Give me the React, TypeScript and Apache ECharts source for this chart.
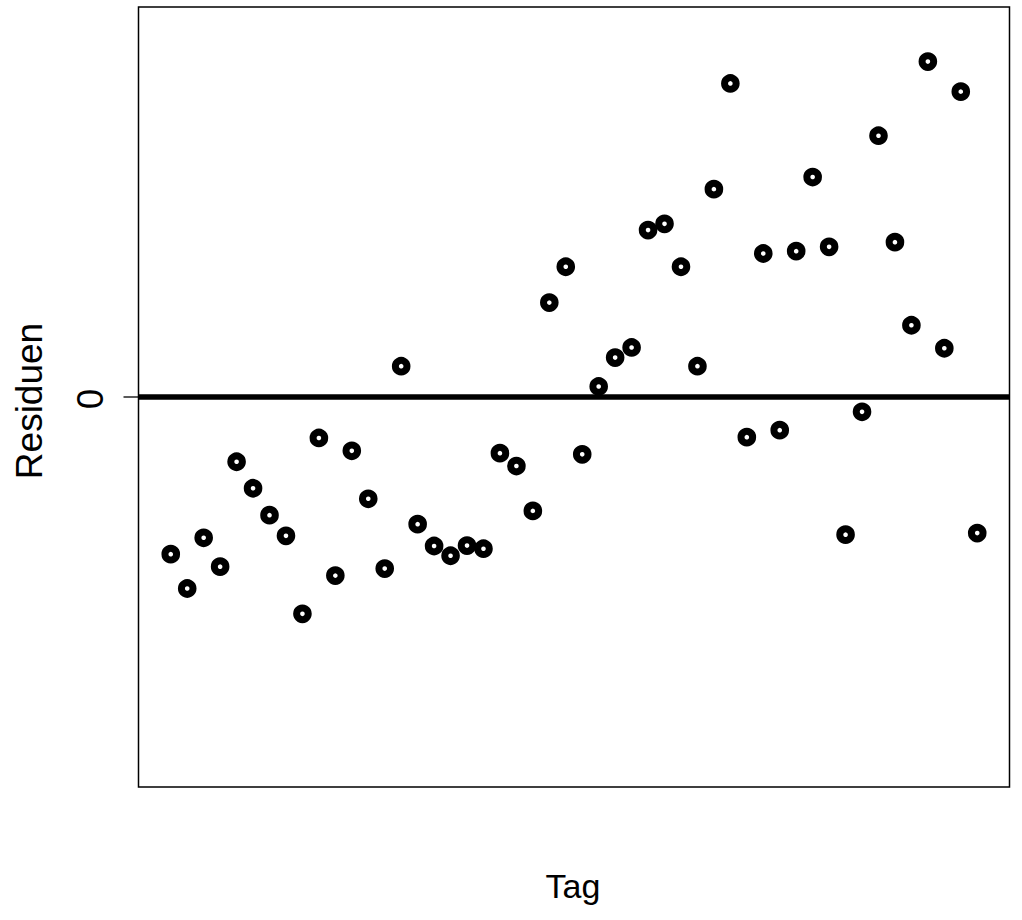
import React, { useEffect, useRef } from "react";
import * as echarts from "echarts";

const days: number[] = Array.from({ length: 50 }, (_, i) => i + 1);
const residuals: number[] = [
  -40.3, -49.1, -36.1, -43.5, -16.6, -23.4, -30.3, -35.6, -55.6, -10.5,
  -45.8, -13.8, -26.1, -44.0, 7.9, -32.6, -38.2, -40.7, -38.1, -38.9,
  -14.4, -17.7, -29.2, 24.2, 33.4, -14.7, 2.7, 10.1, 12.7, 42.8,
  44.4, 33.4, 7.9, 53.3, 80.4, -10.3, 36.8, -8.5, 37.4, 56.4,
  38.5, -35.3, -3.8, 67.0, 39.7, 18.4, 86.0, 12.5, 78.3, -34.9,
];
const yTicks: number[] = [0];
const xLabel = "Tag";
const yLabel = "Residuen";

const FONT = "'Liberation Sans', Arial, Helvetica, sans-serif";
const GRID_LEFT = 138.5;

export default function App() {
  const ref = useRef<HTMLDivElement>(null);
  useEffect(() => {
    document.body.style.margin = "0";
    if (!ref.current) return;
    const chart = echarts.init(ref.current, undefined, { renderer: "svg" });
    const points = days.map((d, i) => [d, residuals[i]]);
    chart.setOption({
      animation: false,
      backgroundColor: "#ffffff",
      grid: {
        left: GRID_LEFT,
        top: 7,
        right: 12.5,
        bottom: 133,
        show: true,
        borderColor: "#000",
        borderWidth: 1.5,
        backgroundColor: "transparent",
      },
      xAxis: {
        type: "value",
        min: -0.96,
        max: 51.96,
        axisLine: { show: false },
        axisTick: { show: false },
        axisLabel: { show: false },
        splitLine: { show: false },
      },
      yAxis: {
        type: "value",
        min: -100,
        max: 100,
        axisLine: { show: false },
        axisTick: { show: false },
        axisLabel: { show: false },
        splitLine: { show: false },
      },
      series: [
        {
          type: "scatter",
          data: points,
          symbol: "circle",
          symbolSize: 11.6,
          itemStyle: { color: "#fff", borderColor: "#000", borderWidth: 7, opacity: 1 },
          markLine: {
            silent: true,
            symbol: ["none", "none"],
            label: { show: false },
            lineStyle: { color: "#000", width: 5.5, type: "solid" },
            data: [{ yAxis: 0 }],
          },
        },
      ],
    });
    const tickGraphics: any[] = [];
    yTicks.forEach((t) => {
      const py = chart.convertToPixel({ yAxisIndex: 0 }, t) as number;
      tickGraphics.push({
        type: "line",
        shape: { x1: GRID_LEFT - 15, y1: py, x2: GRID_LEFT, y2: py },
        style: { stroke: "#000", lineWidth: 1.3 },
      });
      tickGraphics.push({
        type: "text",
        x: 90,
        y: py + 2,
        rotation: Math.PI / 2,
        style: {
          text: String(t),
          font: `37px ${FONT}`,
          fill: "#000",
          textAlign: "center",
          textVerticalAlign: "middle",
        },
      });
    });
    chart.setOption({
      graphic: [
        {
          type: "text",
          x: 573,
          y: 886,
          style: {
            text: xLabel,
            font: `34px ${FONT}`,
            fill: "#000",
            textAlign: "center",
            textVerticalAlign: "middle",
          },
        },
        {
          type: "text",
          x: 29,
          y: 401,
          rotation: Math.PI / 2,
          style: {
            text: yLabel,
            font: `37px ${FONT}`,
            fill: "#000",
            textAlign: "center",
            textVerticalAlign: "middle",
          },
        },
        ...tickGraphics,
      ],
    });
    return () => chart.dispose();
  }, []);
  return <div ref={ref} style={{ width: 1022, height: 920 }} />;
}
